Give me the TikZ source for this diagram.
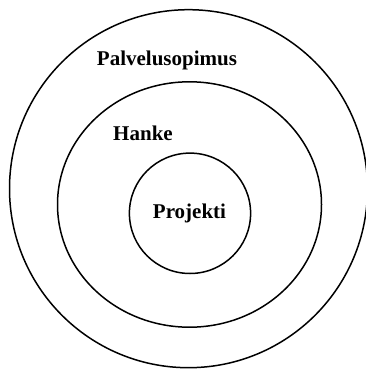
\documentclass[tikz,border=0pt]{standalone}
\usepackage{fontspec}
\setmainfont{Liberation Serif}
\begin{document}
\begin{tikzpicture}[x=1pt,y=-1pt,
  ring/.style={draw=black,line width=1.5pt},
  lbl/.style={font=\fontsize{21}{24}\selectfont\bfseries,inner sep=0pt,anchor=base}]
\useasboundingbox (0,0) rectangle (366,369);
\begin{scope}
\clip (0,0) rectangle (366,369);
\draw[ring] (188.5,188.7) ellipse [x radius=179, y radius=179];
\draw[ring] (189.5,204.5) ellipse [x radius=132, y radius=122.7];
\draw[ring] (190,213.3) ellipse [x radius=60.6, y radius=60.2];
\end{scope}
\node[lbl] (palv) at (167,66) {Palvelusopimus};
\node[lbl] (hanke) at (143,140) {Hanke};
\node[lbl] (proj) at (189.5,218) {Projekti};
\end{tikzpicture}
\end{document}
